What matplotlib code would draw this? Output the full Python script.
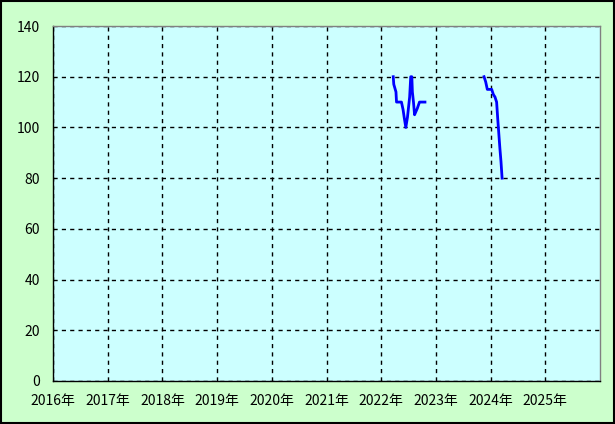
import numpy as np
import matplotlib
matplotlib.use("Agg")
import matplotlib.pyplot as plt

plt.rcParams['font.family'] = ['Noto Sans CJK JP', 'DejaVu Sans']

# data (decimal year, value); NaN splits the two runs
years = [2022.22, 2022.23, 2022.27, 2022.28, 2022.37, 2022.40, 2022.42, 2022.45,
         2022.48, 2022.50, 2022.52, 2022.54, 2022.56, 2022.57, 2022.59, 2022.61,
         2022.63, 2022.66, 2022.70, 2022.80,
         np.nan,
         2023.88, 2023.91, 2023.94, 2024.02, 2024.05, 2024.08, 2024.11, 2024.13,
         2024.15, 2024.17, 2024.19, 2024.21]
values = [120, 117, 114, 110, 110, 107, 104, 100,
          104, 108, 112, 120, 120, 114, 110, 105,
          106, 107.5, 110, 110,
          np.nan,
          120, 118, 115, 115, 113, 112, 110, 103.5,
          97.6, 91.7, 86.5, 80]

year_ticks = list(range(2016, 2026))
year_labels = [f"{y}年" for y in year_ticks]
y_ticks = [0, 20, 40, 60, 80, 100, 120, 140]

fig = plt.figure(figsize=(6.15, 4.24), dpi=100, facecolor='#CCFFCC')
ax = fig.add_axes([53/615, 43/424, 547/615, 355/424])
ax.set_facecolor('#CCFFFF')

ax.plot(years, values, color='#0000FF', lw=2)

ax.set_xlim(2016, 2026)
ax.set_ylim(0, 140)
ax.set_xticks(year_ticks)
ax.set_xticklabels(year_labels)
ax.set_yticks(y_ticks)
ax.tick_params(length=0, labelsize=10, colors='black')
ax.tick_params(axis='x', pad=9)
ax.tick_params(axis='y', pad=9.5)
ax.grid(True, color='black', linestyle=(0, (3, 3)), lw=1)

ax.spines['left'].set_color('black')
ax.spines['bottom'].set_color('black')
ax.spines['top'].set_color('#808080')
ax.spines['right'].set_color('#808080')
for s in ax.spines.values():
    s.set_linewidth(1)

# outer black frame
fig.patches.append(plt.Rectangle((0.001, 0.002), 0.997, 0.996, transform=fig.transFigure,
                                 fill=False, edgecolor='black', lw=1.5))

fig.savefig("out.png", dpi=100, facecolor=fig.get_facecolor())
